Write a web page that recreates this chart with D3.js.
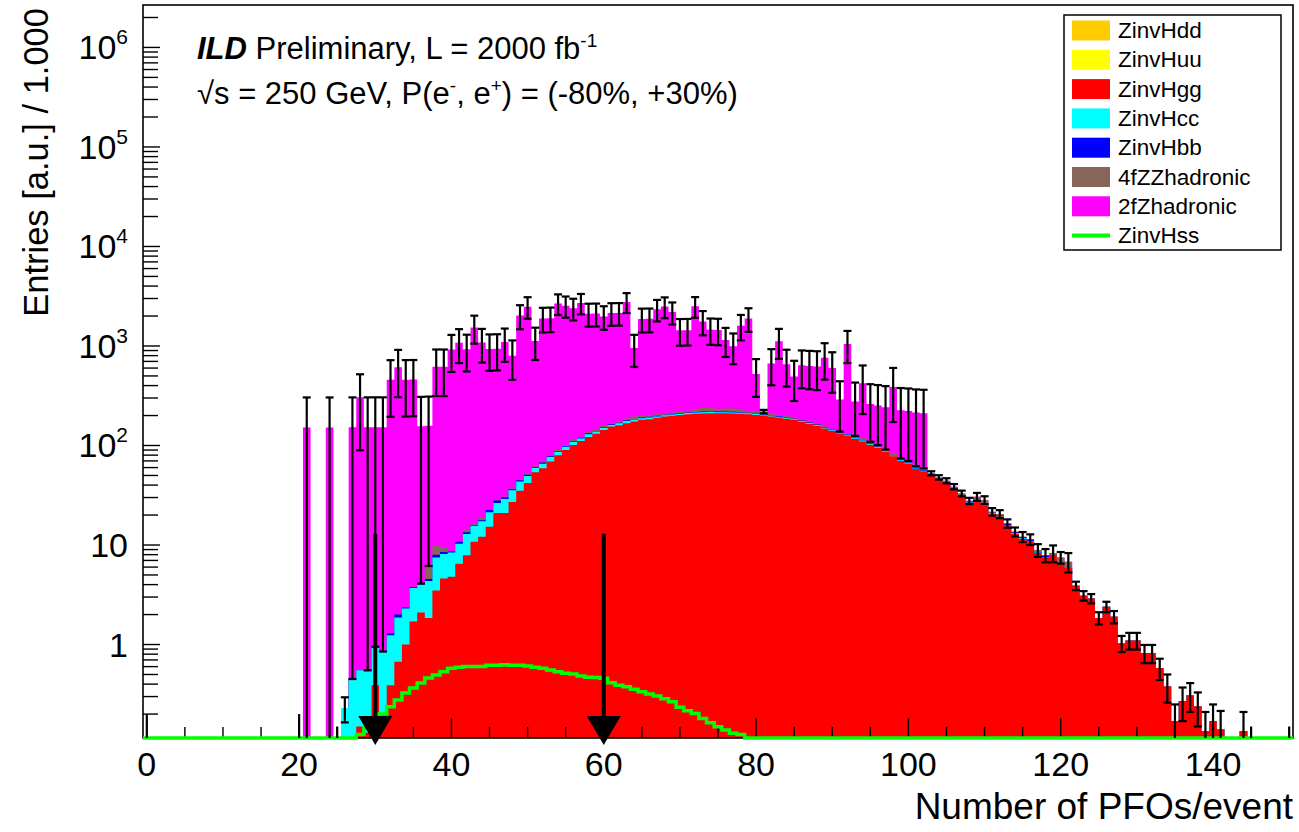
<!DOCTYPE html>
<html><head><meta charset="utf-8">
<script src="https://cdn.jsdelivr.net/npm/d3@7"></script>
<style>
body{margin:0;background:#fff}
text{font-family:"Liberation Sans",Arial,Helvetica,sans-serif;fill:#000}
</style>
</head><body><svg id="c" width="1299" height="832"></svg>
<script>
// ---------------- data (bin = number of PFOs, width 1) ----------------
const xDomain = [-0.5, 150.5];
const yDomain = [0.115, 2.67e6];
const xTickLabels = [0, 20, 40, 60, 80, 100, 120, 140];
const yTickPowers = [0, 1, 2, 3, 4, 5, 6];
const legendNames = ["ZinvHdd", "ZinvHuu", "ZinvHgg", "ZinvHcc", "ZinvHbb", "4fZZhadronic", "2fZhadronic", "ZinvHss"];
const cutValues = [30, 60];
const arrowTopValue = 13;

const hddStart = 55;
const hdd = [0.02,0.03,0.03,0.03,0.04,0.04,0.04,0.04,0.05,0.05,0.05,0.04,0.04,0.04,0.03,0.03,0.03,0.02,0.02,0.02];
const huuStart = 55;
const huu = [0.02,0.02,0.03,0.03,0.03,0.04,0.04,0.04,0.04,0.04,0.04,0.04,0.03,0.03,0.03,0.03,0.02,0.02,0.02,0.02];

const hggStart = 28;
const hgg = [
 0.15,0.13,0.39,0.2,0.39,0.67,1.0,1.7,2.1,1.85,
 3.5,4.6,4.8,6.5,7.9,10.8,12.1,15.3,21,21,
 27,35,42,54,59,69,80,90,101,111,
 122,131,143,155,160,167,174,181,184,190,
 195,199,203,206,208,210,211,211,211,210,
 208,206,203,200,196,191,186,180,173,165,
 158,148,140,132,126,116,110,102,95,86,
 78,70,66,58,55,50,45,41,36,31,
 26.5,28.5,25,20.5,19.5,15.5,13,11.5,10.8,8.3,
 7.4,7.8,6.4,5.9,3.9,3.1,2.9,1.85,2.4,1.9,
 1.03,1.1,1.1,0.82,0.82,0.58,0.38,0.17,0.27,0.31,
 0.24,0.135,0.17,0.14,0,0,0.135,0.075,0,0,
 0,0,0.075];

const hccStart = 26;
const hcc = [
 0.23,0.45,0.4,0.42,0.56,0.65,0.85,1.2,1.3,2.0,
 1.9,2.5,4.0,3.5,3.6,3.8,5.0,4.8,5.2,6.0,
 5.5,8.0,8.5,8.5,7.5,5.5,6.5,7.5,6.5,7,
 8,6.5,8,7,7.5,6,7,9,8,7,
 7,6,6,6,6,6,6,6,6,5,
 5,5,5,5,5,5,4.5,4,4,4,
 3.5,3.5,3,3,2.5,2.5,2.2,2,2,1.8,
 1.6,1.4,1.3,1.1,1,0.9,0.8,0.7,0.6,0.6,
 0.5,0.4,0.3,0.3,0.3,0.3,0.2,0.2,0.2,0.2,
 0.1,0.1,0.1,0,0.1];

const hbbStart = 32;
const hbb = [
 0.06,0.13,0.05,0.08,0.1,0.2,0.5,0.4,0.2,0.5,
 0.5,0.3,0.4,1.2,1.5,1.2,0.8,1.2,1.3,1.0,
 1.8,1.5,1.5,1.8,2,2,2.5,2,2.5,2,
 2.5,3,3,3,3,3,3,3,3,3,
 3,3,3,3,3,3,3,2.5,3,3,
 2.5,2.5,2.5,2,2,2,2,1.5,1.5,1.5,
 1.3,1.5,1.2,1.2,1.1,1,1,0.8,0.8,0.8,
 0.7,0.6,0.6,0.7,0.5,0.4,0.4,0.3,0.3,0.3,
 0.3,0.6,0.2,0.3,0.4,0.1,0.3,0.1,0.1];

const zz4fStart = 37;
const zz4f = [
 1.6,2.0,1.0,0,0,1.0,0.3,1.3,0.3,0.3,
 0.4,0.7,1.0,1.0,0.9,1.2,2.0,2.0,2.2,3,
 2.5,3.5,3,4,4,4.5,8,10,7,8,
 7,6,6,7,9,14,23,22,12,17,
 18,11,5.5,8,11,7,4.5,5.5,5,4.5,
 3.5,4,2.5,2,2,3.5,5.5,4.8,4,3.3,
 2.6,2.7,2.1,2.2,2.3,2.5,1.3,1.6,2.0,1.6,
 1.2,0.6,1.5,2.7,0.5,0.5,0.2,0.2,0.1,0.1,
 0.4,0.1,0.4,0.9,0.9];

const z2fStart = 0;
const z2f = [
 0.1,0,0,0,0,0,0,0,0,0,
 0,0,0,0,0,0,0,0,0,0,
 0.1,152,0,0,152,0.1,0,
 152,304,152,152,152,456,608,456,456,152,
 152,608,608,912,1064,912,1520,1064,912,912,
 1064,760,1976,2432,1064,1824,1824,2584,2432,2280,
 2584,1976,1976,1824,1976,1976,2584,760,1672,1672,
 2128,2280,1976,1216,1216,2280,1520,1216,1216,912,
 760,1368,1672,304,0,456,912,456,304,456,
 456,456,608,456,152,912,152,304,152,152,
 152,304,152,152,152,152];

const hssStart = 28;
const hss = [
 0.125,0.145,0.16,0.2,0.237,0.277,0.325,0.366,0.41,0.46,
 0.494,0.533,0.576,0.59,0.6,0.6,0.6,0.62,0.62,0.625,
 0.62,0.62,0.61,0.59,0.576,0.554,0.533,0.513,0.505,0.482,
 0.468,0.465,0.457,0.413,0.39,0.377,0.355,0.336,0.318,0.304,
 0.285,0.266,0.234,0.216,0.203,0.181,0.164,0.149,0.138,0.128,
 0.125];

const errStart = 0;
const totalErr = [
 0.1,0,0,0,0,0,0,0,0,0,
 0,0,0,0,0,0,0,0,0,0,
 0.1,152,0,0,152,0.05,0.065,152,215,152,
 152,152,263,304,263,263,152,152,304,304,
 372,402,372,481,402,372,372,402,340,548,
 608,402,527,527,627,608,589,627,548,548,
 527,548,548,627,340,504,504,569,589,548,
 430,430,589,481,430,430,372,340,456,504,
 215,9,263,372,263,215,263,263,263,304,
 263,152,372,152,215,152,152,152,215,152,
 152,152,152,2.5,2.5,2.6,2.4,2.2,2.0,2.8,
 2.6,1.9,1.9,1.6,1.4,1.4,1.4,1.3,1.2,1.6,
 1.0,1.5,0.38,0.34,0.31,0.26,0.29,0.27,0.19,0.21,
 0.21,0.17,0.17,0.14,0.12,0.08,0.1,0.1,0.09,0.075,
 0.08,0.075,0,0,0.075,0.075,0,0,0,0,
 0.075];

// ---------------- layout ----------------
const frame = {l: 143, r: 1293, t: 5, b: 738};
const svg = d3.select("#c");
svg.append("rect").attr("width", 1299).attr("height", 832).attr("fill", "#fff");

const x = d3.scaleLinear().domain(xDomain).range([frame.l, frame.r]);
const y = d3.scaleLog().domain(yDomain).range([frame.b, frame.t]);
const ymin = yDomain[0];
const bins = d3.range(Math.ceil(xDomain[0]), Math.floor(xDomain[1]) + 1);

const at = (arr, start, b) => { const i = b - start; return (i >= 0 && i < arr.length) ? arr[i] : 0; };

const layers = [
  {name: "ZinvHdd", color: "#ffcc00", start: hddStart, vals: hdd},
  {name: "ZinvHuu", color: "#ffff00", start: huuStart, vals: huu},
  {name: "ZinvHgg", color: "#ff0000", start: hggStart, vals: hgg},
  {name: "ZinvHcc", color: "#00ffff", start: hccStart, vals: hcc},
  {name: "ZinvHbb", color: "#0000ff", start: hbbStart, vals: hbb},
  {name: "4fZZhadronic", color: "#876657", start: zz4fStart, vals: zz4f},
  {name: "2fZhadronic", color: "#ff00ff", start: z2fStart, vals: z2f}
];
// cumulative sums
const cum = layers.map(() => []);
bins.forEach(b => {
  let s = 0;
  layers.forEach((L, k) => { s += at(L.vals, L.start, b); cum[k][b] = s; });
});
const yv = v => (v > ymin ? y(v) : frame.b);

svg.append("defs").append("clipPath").attr("id", "fr")
  .append("rect").attr("x", frame.l).attr("y", frame.t)
  .attr("width", frame.r - frame.l).attr("height", frame.b - frame.t);

const gHist = svg.append("g").attr("clip-path", "url(#fr)");
for (let k = layers.length - 1; k >= 0; k--) {
  const p = d3.path();
  p.moveTo(x(bins[0] - 0.5), frame.b);
  bins.forEach(b => {
    const yy = yv(cum[k][b]);
    p.lineTo(x(b - 0.5), yy);
    p.lineTo(x(b + 0.5), yy);
  });
  p.lineTo(x(bins[bins.length - 1] + 0.5), frame.b);
  p.closePath();
  gHist.append("path").attr("d", p.toString()).attr("fill", layers[k].color).attr("stroke", "none");
}

// ---------------- frame & axes ----------------
const gAx = svg.append("g");
gAx.append("rect").attr("x", frame.l).attr("y", frame.t)
  .attr("width", frame.r - frame.l).attr("height", frame.b - frame.t)
  .attr("fill", "none").attr("stroke", "#000").attr("stroke-width", 1.6);

// y ticks (log)
for (let d = -1; d <= 6; d++) {
  for (let m = 1; m <= 9; m++) {
    const v = m * Math.pow(10, d);
    if (v < yDomain[0] || v > yDomain[1]) continue;
    const yy = y(v);
    gAx.append("line").attr("x1", frame.l).attr("x2", frame.l + (m === 1 ? 17 : 15))
      .attr("y1", yy).attr("y2", yy).attr("stroke", "#000").attr("stroke-width", 1.4);
  }
}
// y labels
yTickPowers.forEach(k => {
  const v = Math.pow(10, k);
  const t = gAx.append("text").attr("x", 128).attr("y", y(v) + 12)
    .attr("text-anchor", "end").attr("font-size", 34);
  if (k === 0) t.text("1");
  else if (k === 1) t.text("10");
  else {
    t.append("tspan").text("10");
    t.append("tspan").attr("dy", -15).attr("font-size", 21).text(String(k));
  }
});
// x ticks
for (let v = 0; v <= 150; v += 5) {
  const major = v % 20 === 0;
  gAx.append("line").attr("x1", x(v)).attr("x2", x(v))
    .attr("y1", frame.b).attr("y2", frame.b - (major ? 20 : 11))
    .attr("stroke", "#000").attr("stroke-width", 1.4);
}
xTickLabels.forEach(v => {
  gAx.append("text").attr("x", x(v)).attr("y", 776).attr("text-anchor", "middle")
    .attr("font-size", 34).text(String(v));
});

// axis titles
svg.append("text").attr("x", frame.r).attr("y", 819).attr("text-anchor", "end")
  .attr("font-size", 37).text("Number of PFOs/event");
svg.append("text").attr("transform", "translate(48,8) rotate(-90)").attr("text-anchor", "end")
  .attr("font-size", 34.5).text("Entries [a.u.] / 1.000");

// ---------------- ZinvHss line ----------------
{
  const p = d3.path();
  bins.forEach((b, i) => {
    const yy = yv(at(hss, hssStart, b));
    if (i === 0) p.moveTo(x(b - 0.5), yy); else p.lineTo(x(b - 0.5), yy);
    p.lineTo(x(b + 0.5), yy);
  });
  svg.append("path").attr("d", p.toString()).attr("fill", "none")
    .attr("stroke", "#00ff00").attr("stroke-width", 3.5);
}

// ---------------- error bars ----------------
const gErr = svg.append("g").attr("stroke", "#000").attr("stroke-width", 2.2);
bins.forEach(b => {
  const e = at(totalErr, errStart, b);
  if (e <= 0) return;
  const v = cum[layers.length - 1][b];
  const top = v + e, bot = v - e;
  if (top <= ymin) return;
  const cx = x(b), yt = y(top), yb = bot > ymin ? y(bot) : frame.b;
  gErr.append("line").attr("x1", cx).attr("x2", cx).attr("y1", yt).attr("y2", yb);
  if (v >= ymin) {
    gErr.append("line").attr("x1", cx - 4).attr("x2", cx + 4).attr("y1", yt).attr("y2", yt);
    if (bot > ymin) gErr.append("line").attr("x1", cx - 4).attr("x2", cx + 4).attr("y1", yb).attr("y2", yb);
  }
});

// ---------------- cut arrows ----------------
cutValues.forEach(c => {
  const cx = x(c);
  svg.append("line").attr("x1", cx).attr("x2", cx).attr("y1", y(arrowTopValue)).attr("y2", frame.b - 20)
    .attr("stroke", "#000").attr("stroke-width", 4);
  svg.append("path").attr("d", `M${cx - 17},${frame.b - 22} L${cx + 17},${frame.b - 22} L${cx},${frame.b + 7} Z`)
    .attr("fill", "#000");
});

// ---------------- title texts ----------------
const t1 = svg.append("text").attr("x", 197).attr("y", 59).attr("font-size", 31);
t1.append("tspan").attr("font-weight", "bold").attr("font-style", "italic").text("ILD");
t1.append("tspan").text(" Preliminary, L = 2000 fb");
t1.append("tspan").attr("dy", -12).attr("font-size", 19).text("-1");

const t2 = svg.append("text").attr("x", 197).attr("y", 104).attr("font-size", 31);
t2.append("tspan").text("\u221As = 250 GeV, P(e");
t2.append("tspan").attr("dy", -12).attr("font-size", 19).text("-");
t2.append("tspan").attr("dy", 12).text(", e");
t2.append("tspan").attr("dy", -12).attr("font-size", 19).text("+");
t2.append("tspan").attr("dy", 12).text(") = (-80%, +30%)");

// ---------------- legend ----------------
const lg = svg.append("g");
lg.append("rect").attr("x", 1064).attr("y", 15).attr("width", 217).attr("height", 235)
  .attr("fill", "#fff").attr("stroke", "#000").attr("stroke-width", 1.5);
const legendColors = layers.map(L => L.color).concat(["#00ff00"]);
legendNames.forEach((name, i) => {
  const cy = 30.5 + i * 29.3;
  if (i < layers.length) {
    lg.append("rect").attr("x", 1072).attr("y", cy - 10).attr("width", 38).attr("height", 20)
      .attr("fill", legendColors[i]);
  } else {
    lg.append("line").attr("x1", 1072).attr("x2", 1110).attr("y1", cy).attr("y2", cy)
      .attr("stroke", legendColors[i]).attr("stroke-width", 4);
  }
  lg.append("text").attr("x", 1118).attr("y", cy + 7.5).attr("font-size", 22.5).text(name);
});
</script>
</body></html>
